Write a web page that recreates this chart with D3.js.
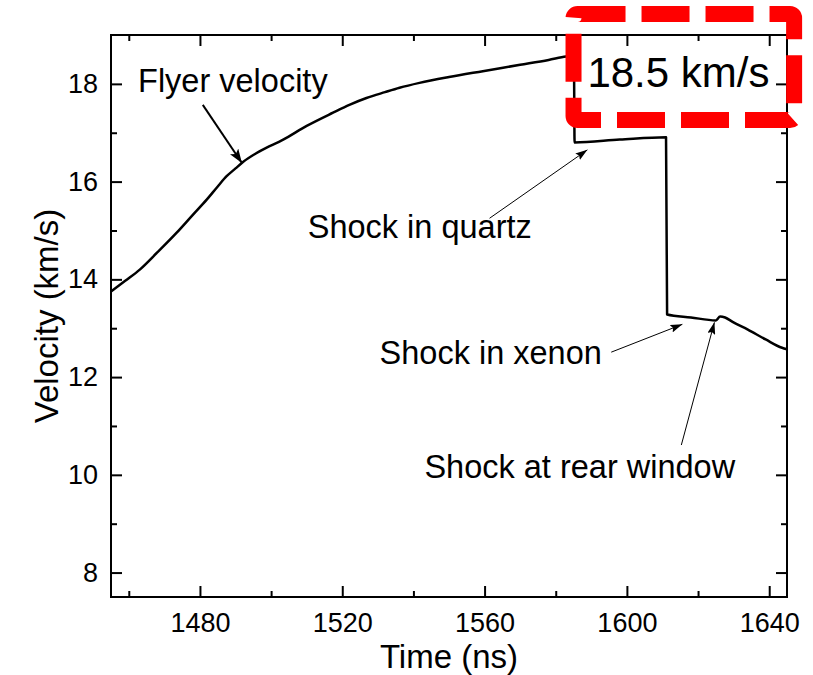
<!DOCTYPE html>
<html>
<head>
<meta charset="utf-8">
<script src="https://cdn.jsdelivr.net/npm/d3@7"></script>
<style>
  body { margin: 0; background: #fff; }
  svg { display: block; font-family: "Liberation Sans", Arial, sans-serif; }
</style>
</head>
<body>
<svg id="chart" width="813" height="675"></svg>
<script>
// flyer velocity trace (time in ns, velocity in km/s)
const timeNs = [1455, 1459, 1463.1, 1468, 1473.4, 1478, 1481.9, 1485, 1487.5, 1490, 1492.1, 1497, 1503.4,
	1510, 1517.4, 1522, 1526.8, 1532, 1536.1, 1541.7, 1550, 1559.5, 1570, 1578, 1582.9, 1585.1,
	1585.3, 1598, 1611.0, 1611.3, 1618, 1625, 1626.2, 1627.6, 1629.7, 1634, 1639, 1643.6, 1645];
const velocity = [13.75, 13.97, 14.2, 14.55, 14.95, 15.32, 15.63, 15.9, 16.11, 16.27, 16.4, 16.63, 16.86,
	17.14, 17.41, 17.57, 17.71, 17.83, 17.92, 18.02, 18.14, 18.26, 18.39, 18.49, 18.56, 18.58,
	16.8, 16.86, 16.91, 13.28, 13.22, 13.16, 13.24, 13.22, 13.13, 12.97, 12.77, 12.6, 12.57];

const xMajorTicks = [1480, 1520, 1560, 1600, 1640];
const xMinorTicks = [1460, 1500, 1540, 1580, 1620];
const yMajorTicks = [8, 10, 12, 14, 16, 18];
const yMinorTicks = [9, 11, 13, 15, 17];

// annotations: label position and arrow (tail -> tip), all in data units
const labels = ['Flyer velocity', 'Shock in quartz', 'Shock in xenon', 'Shock at rear window'];
const labelPos = [[1462.6, 17.83], [1510.3, 14.84], [1530.5, 12.27], [1543.1, 9.93]];
const arrowTail = [[1480.8, 17.57], [1561.4, 15.25], [1595.6, 12.51], [1615.3, 10.61]];
const arrowTip = [[1491.8, 16.38], [1588.9, 16.65], [1615.6, 13.08], [1624.6, 13.12]];
const arrowThick = [true, false, false, false];

const highlightText = '18.5 km/s';
const highlightPos = [1588.9, 17.94];
const highlightBox = [[1585.0, 19.43], [1647.0, 17.26]];

const svg = d3.select('#chart');
const x = d3.scaleLinear().domain([1455, 1645]).range([111, 787]);
const y = d3.scaleLinear().domain([7.5, 19]).range([597, 35]);
const fmt = d3.format('d');

function styleAxis(g) {
	g.select('.domain').remove();
	g.selectAll('line').attr('stroke', '#000').attr('stroke-width', 2);
	g.attr('font-family', null);
	g.selectAll('text').attr('font-size', 27).attr('fill', '#000');
}

// bottom axis
svg.append('g')
	.attr('transform', `translate(0,${y(7.5)})`)
	.call(d3.axisBottom(x).tickValues(xMajorTicks).tickFormat(fmt).tickSizeInner(-11).tickSizeOuter(0).tickPadding(16))
	.call(styleAxis);
svg.append('g')
	.attr('transform', `translate(0,${y(7.5)})`)
	.call(d3.axisBottom(x).tickValues(xMinorTicks).tickSizeInner(-6).tickSizeOuter(0).tickFormat(''))
	.call(styleAxis);
// top axis (ticks only)
svg.append('g')
	.attr('transform', `translate(0,${y(19)})`)
	.call(d3.axisTop(x).tickValues(xMajorTicks).tickSizeInner(-11).tickSizeOuter(0).tickFormat(''))
	.call(styleAxis);
svg.append('g')
	.attr('transform', `translate(0,${y(19)})`)
	.call(d3.axisTop(x).tickValues(xMinorTicks).tickSizeInner(-6).tickSizeOuter(0).tickFormat(''))
	.call(styleAxis);
// left axis
svg.append('g')
	.attr('transform', `translate(${x(1455)},0)`)
	.call(d3.axisLeft(y).tickValues(yMajorTicks).tickFormat(fmt).tickSizeInner(-11).tickSizeOuter(0).tickPadding(13))
	.call(styleAxis);
svg.append('g')
	.attr('transform', `translate(${x(1455)},0)`)
	.call(d3.axisLeft(y).tickValues(yMinorTicks).tickSizeInner(-6).tickSizeOuter(0).tickFormat(''))
	.call(styleAxis);
// right axis (ticks only)
svg.append('g')
	.attr('transform', `translate(${x(1645)},0)`)
	.call(d3.axisRight(y).tickValues(yMajorTicks).tickSizeInner(-11).tickSizeOuter(0).tickFormat(''))
	.call(styleAxis);
svg.append('g')
	.attr('transform', `translate(${x(1645)},0)`)
	.call(d3.axisRight(y).tickValues(yMinorTicks).tickSizeInner(-6).tickSizeOuter(0).tickFormat(''))
	.call(styleAxis);

// frame
svg.append('rect')
	.attr('x', x(1455))
	.attr('y', y(19))
	.attr('width', x(1645) - x(1455))
	.attr('height', y(7.5) - y(19))
	.attr('fill', 'none')
	.attr('stroke', '#000')
	.attr('stroke-width', 2);

// axis titles
svg.append('text')
	.attr('x', (x(1455) + x(1645)) / 2)
	.attr('y', 668)
	.attr('text-anchor', 'middle')
	.attr('font-size', 33)
	.text('Time (ns)');
svg.append('text')
	.attr('transform', `translate(58,${(y(7.5) + y(19)) / 2}) rotate(-90)`)
	.attr('text-anchor', 'middle')
	.attr('font-size', 33)
	.text('Velocity (km/s)');

// trace
const points = timeNs.map((t, i) => [t, velocity[i]]);
const line = d3.line()
	.x((d) => x(d[0]))
	.y((d) => y(d[1]))
	.curve(d3.curveMonotoneX);
svg.append('path')
	.attr('d', line(points))
	.attr('fill', 'none')
	.attr('stroke', '#000')
	.attr('stroke-width', 2.5)
	.attr('stroke-linejoin', 'round');

// arrow heads
const defs = svg.append('defs');
defs.append('marker')
	.attr('id', 'headThick')
	.attr('markerUnits', 'userSpaceOnUse')
	.attr('viewBox', '0 0 14 10')
	.attr('refX', 14).attr('refY', 5)
	.attr('markerWidth', 14).attr('markerHeight', 10)
	.attr('orient', 'auto')
	.append('path').attr('d', 'M0,0L14,5L0,10L3,5Z').attr('fill', '#000');
defs.append('marker')
	.attr('id', 'headThin')
	.attr('markerUnits', 'userSpaceOnUse')
	.attr('viewBox', '0 0 12 8')
	.attr('refX', 12).attr('refY', 4)
	.attr('markerWidth', 12).attr('markerHeight', 8)
	.attr('orient', 'auto')
	.append('path').attr('d', 'M0,0L12,4L0,8L2,4Z').attr('fill', '#000');

labels.forEach((label, i) => {
	svg.append('text')
		.attr('x', x(labelPos[i][0]))
		.attr('y', y(labelPos[i][1]))
		.attr('font-size', 32.5)
		.text(label);
	svg.append('line')
		.attr('x1', x(arrowTail[i][0]))
		.attr('y1', y(arrowTail[i][1]))
		.attr('x2', x(arrowTip[i][0]))
		.attr('y2', y(arrowTip[i][1]))
		.attr('stroke', '#000')
		.attr('stroke-width', arrowThick[i] ? 2 : 1)
		.attr('marker-end', arrowThick[i] ? 'url(#headThick)' : 'url(#headThin)');
});

// red dashed highlight box
svg.append('rect')
	.attr('x', x(highlightBox[0][0]))
	.attr('y', y(highlightBox[0][1]))
	.attr('width', x(highlightBox[1][0]) - x(highlightBox[0][0]))
	.attr('height', y(highlightBox[1][1]) - y(highlightBox[0][1]))
	.attr('rx', 4)
	.attr('fill', 'none')
	.attr('stroke', '#ff0000')
	.attr('stroke-width', 16)
	.attr('stroke-dasharray', '48,16');
svg.append('text')
	.attr('x', x(highlightPos[0]))
	.attr('y', y(highlightPos[1]))
	.attr('font-size', 42)
	.text(highlightText);
</script>
</body>
</html>
